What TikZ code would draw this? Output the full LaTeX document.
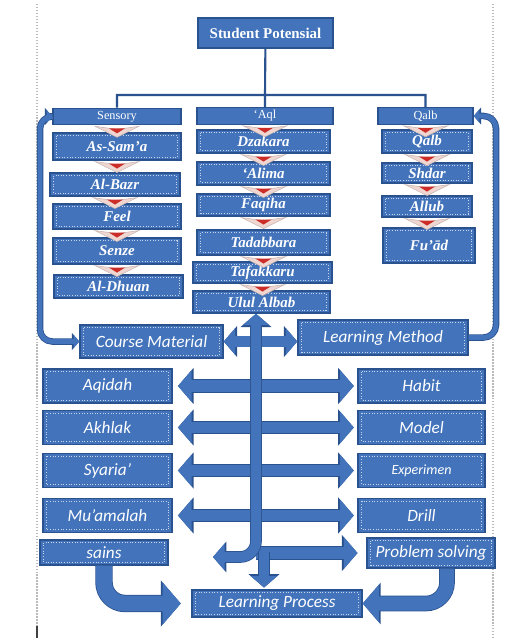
\documentclass[tikz,border=0pt]{standalone}
\usepackage{fontspec}
\setmainfont{Liberation Serif}
\newfontfamily\calfont{Carlito}
\usetikzlibrary{arrows.meta}
\definecolor{boxblue}{RGB}{66,115,187}
\definecolor{boxline}{RGB}{42,82,142}
\definecolor{chevpink}{RGB}{240,214,208}
\definecolor{chevred}{RGB}{205,45,40}

\begin{document}
\begin{tikzpicture}[x=0.02cm,y=-0.02cm,
   blk/.style={draw=boxline,fill=boxblue,text=white,line width=0.8pt,inner sep=0pt},
   dotbox/.style={path picture={\draw[white!70!boxblue,densely dotted,line width=0.5pt]
      ([shift={(2.2pt,-1.6pt)}]path picture bounding box.north west) rectangle
      ([shift={(-2.2pt,1.6pt)}]path picture bounding box.south east);}},
   head/.style={blk,minimum height=0.33cm,font=\fontsize{7}{8}\selectfont},
   item/.style={blk,dotbox,font=\fontsize{8.5}{10}\selectfont\bfseries\itshape},
   topic/.style={blk,dotbox,minimum width=2.58cm,minimum height=0.68cm,font=\calfont\itshape\fontsize{9.8}{11}\selectfont},
   tree/.style={draw=boxline,line width=1.2pt},
   fat/.style={draw=boxblue,line width=#1,preaction={draw=boxline,line width=#1+0.9pt}},
   tipend/.style={-{Triangle[length=0pt 1.15,width=0pt 2.6]}},
   tipboth/.style={{Triangle[length=0pt 1.15,width=0pt 2.6]}-{Triangle[length=0pt 1.15,width=0pt 2.6]}},
   chev/.pic={
      \filldraw[fill=chevpink,draw=chevpink!60!gray,line width=0.3pt] (-22,0) -- (0,3) -- (22,0) -- (0,11) -- cycle;
      \fill[chevred] (-8,2) -- (8,2) -- (0,7) -- cycle;}]
   \useasboundingbox (0,0) rectangle (507,638);

   % page edges of the scan
   \draw[gray!55,densely dotted,line width=0.7pt] (37,4) -- (37,638) (493,4) -- (493,638);
   \draw[black!75,line width=1.2pt] (37,626) -- (37,638);

   \node[blk,minimum width=2.7cm,minimum height=0.6cm,font=\fontsize{8.5}{10}\selectfont\bfseries] (pot) at (265.5,33) {Student Potensial};

   \node[head,minimum width=2.56cm] (sens) at (117,116.5) {Sensory};
   \node[head,minimum width=2.72cm] (aql) at (265,116) {‘Aql};
   \node[head,minimum width=1.9cm] (qalb) at (425.5,116) {Qalb};

   \coordinate (bus) at (265,95);
   \draw[tree] (pot) -- (bus) (sens.north) |- (bus) -| (qalb.north) (bus) -- (aql.north);

   \node[item,minimum width=2.56cm,minimum height=0.54cm] (sama) at (117,146.5) {As-Sam’a};
   \node[item,minimum width=2.6cm,minimum height=0.46cm] (bazr) at (115,184.5) {Al-Bazr};
   \node[item,minimum width=2.56cm,minimum height=0.5cm] (feel) at (117,216.5) {Feel};
   \node[item,minimum width=2.56cm,minimum height=0.52cm] (senze) at (117,251) {Senze};
   \node[item,minimum width=2.58cm,minimum height=0.46cm] (dhuan) at (118.5,286.5) {Al-Dhuan};

   \node[item,minimum width=2.66cm,minimum height=0.46cm] (dzakara) at (263.5,141.5) {Dzakara};
   \node[item,minimum width=2.66cm,minimum height=0.46cm] (alima) at (263.5,173.5) {‘Alima};
   \node[item,minimum width=2.66cm,minimum height=0.44cm] (faqiha) at (263.5,205) {Faqiha};
   \node[item,minimum width=2.66cm,minimum height=0.5cm] (tadabbara) at (263.5,242.5) {Tadabbara};
   \node[item,minimum width=2.78cm,minimum height=0.42cm] (tafakkaru) at (262.5,272.5) {Tafakkaru};
   \node[item,minimum width=2.74cm,minimum height=0.44cm] (ulul) at (261.5,302) {Ulul Albab};

   \node[item,minimum width=1.8cm,minimum height=0.46cm] (qalbi) at (427,141.5) {Qalb};
   \node[item,minimum width=1.8cm,minimum height=0.4cm] (shdar) at (427,173) {Shdar};
   \node[item,minimum width=1.8cm,minimum height=0.42cm] (allub) at (427,206.5) {Allub};
   \node[item,minimum width=1.84cm,minimum height=0.7cm] (fuad) at (429,245.5) {Fu’ād};

   \foreach \n in {sens,sama,bazr,feel,senze,aql,dzakara,alima,faqiha,tadabbara,tafakkaru,qalb,qalbi,shdar,allub}
      \pic at ([yshift=-0.5pt]\n.south) {chev};

   \node[topic,minimum width=2.86cm,minimum height=0.66cm] (course) at (151.5,341.5) {Course Material};
   \node[topic,minimum width=3.4cm,minimum height=0.7cm] (method) at (383,337.5) {Learning Method};

   \node[topic] (aqidah) at (107.5,386) {Aqidah};
   \node[topic] (akhlak) at (107.5,427.5) {Akhlak};
   \node[topic] (syaria) at (107.5,470.5) {Syaria’};
   \node[topic] (muamalah) at (107.5,515.5) {Mu’amalah};
   \node[topic,minimum width=2.54cm] (habit) at (421.5,386) {Habit};
   \node[topic,minimum width=2.54cm] (model) at (421.5,427.5) {Model};
   \node[topic,minimum width=2.54cm,font=\calfont\itshape\fontsize{8}{9}\selectfont] (experimen) at (421.5,470.5) {Experimen};
   \node[topic,minimum width=2.54cm] (drill) at (421.5,515.5) {Drill};

   \node[topic,minimum width=2.56cm,minimum height=0.5cm] (sains) at (104,552.5) {sains};
   \node[topic,minimum width=2.56cm,minimum height=0.6cm] (problem) at (431,553) {Problem solving};
   \node[topic,minimum width=3.4cm,minimum height=0.54cm] (process) at (277,603.5) {Learning Process};

   \coordinate (spine) at (256,0);
   \coordinate (turn) at (213,557);
   \coordinate (drop) at (264,552);
   \coordinate (lft) at (40,0);
   \coordinate (rgt) at (496,0);

   % loops back to the headers
   \draw[fat=2.8pt,tipboth,rounded corners=7pt] (sens.west) -| (lft |- course.west) -- (course.west);
   \draw[fat=2.8pt,tipend,rounded corners=7pt] (method.east) -| (rgt |- qalb.east) -- (qalb.east);

   \draw[fat=5.7pt,tipboth] (course.east) -- (course.east -| method.west);

   \foreach \n in {aqidah,akhlak,syaria,muamalah}
      \draw[fat=6.8pt,tipend] (\n.east -| spine) -- ([xshift=3pt]\n.east);
   \foreach \n in {habit,model,experimen,drill}
      \draw[fat=6.8pt,tipend] (\n.west -| spine) -- ([xshift=-2pt]\n.west);
   \draw[fat=6.8pt,tipend] (problem.west -| spine) -- ([xshift=-5pt]problem.west);

   \draw[fat=5.7pt,tipend] (drop) -- ([yshift=1pt]drop |- process.north);
   \draw[fat=5.7pt,tipboth,rounded corners=9pt] (ulul.south -| spine) -- (spine |- turn) -- (turn);

   \draw[fat=9pt,tipend,rounded corners=12pt] (sains.south) |- ([xshift=-6pt]process.west);
   \draw[fat=8pt,tipend,rounded corners=12pt] ([xshift=0.32cm]problem.south) |- (process.east);
\end{tikzpicture}
\end{document}
